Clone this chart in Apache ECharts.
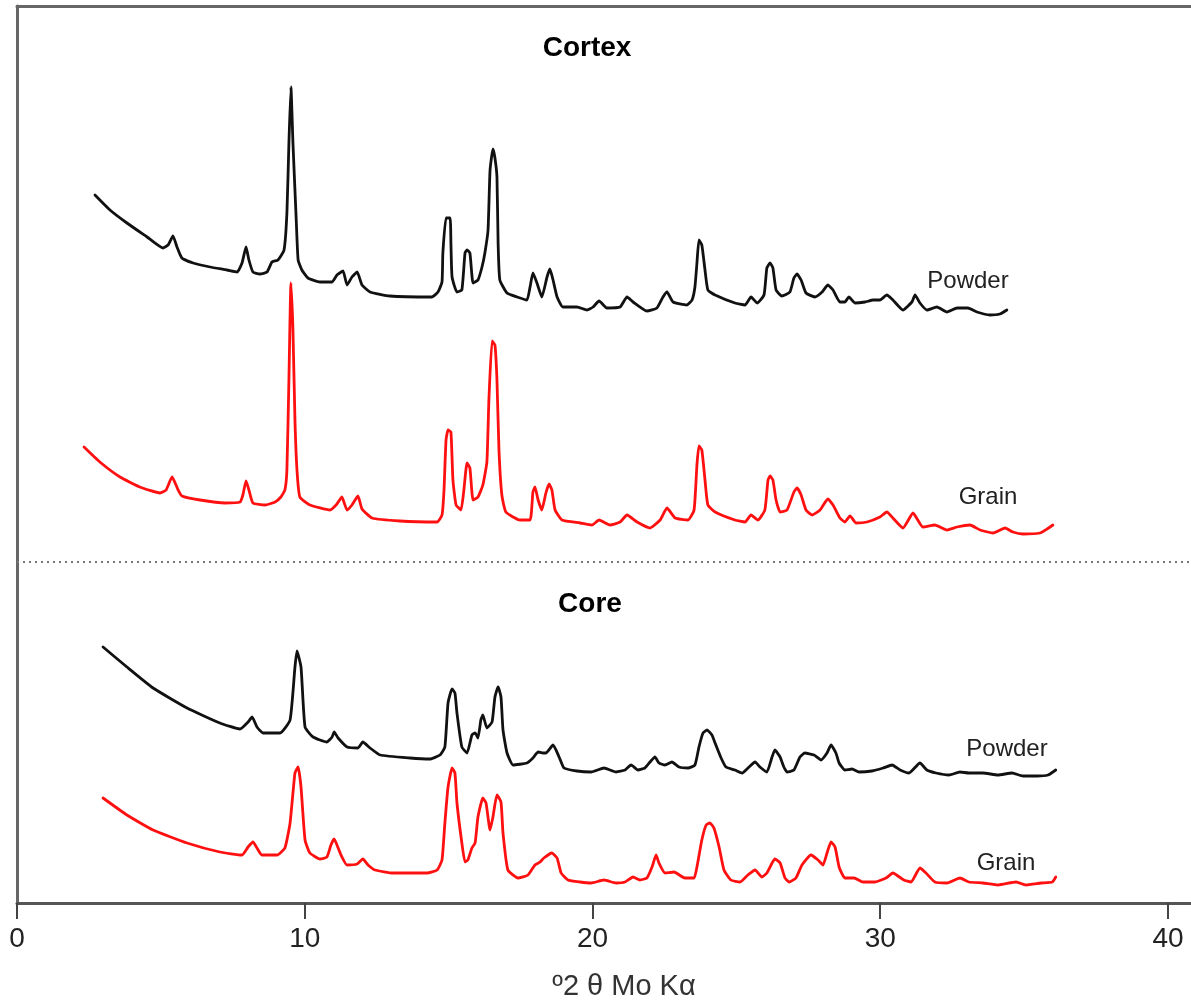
<!DOCTYPE html>
<html>
<head>
<meta charset="utf-8">
<title>XRD Cortex / Core</title>
<script src="https://cdn.jsdelivr.net/npm/echarts@6/dist/echarts.min.js"></script>
<style>
    html, body { margin: 0; padding: 0; background: #fff; }
    #chart { width: 1191px; height: 1003px; }
</style>
</head>
<body>
<div id="chart"></div>
<script>
// x: degrees 2θ, y: intensity (arbitrary units, traces offset)
const xTicks = [0, 10, 20, 30, 40];

// Cortex - powder
const cortexPowderX = [2.71, 3.23, 3.82, 4.52, 5.07, 5.25, 5.42, 5.56, 5.73, 6.12, 6.71, 7.30, 7.65, 7.82, 7.96, 8.06, 8.20, 8.44, 8.69, 8.86,
    9.07, 9.28, 9.38, 9.45, 9.52, 9.59, 9.70, 9.77, 9.90, 10.11, 10.53, 10.95, 11.12, 11.33, 11.47, 11.64, 11.82, 11.99, 12.27, 12.96,
    14.42, 14.63, 14.77, 14.80, 14.91, 15.05, 15.08, 15.12, 15.29, 15.46, 15.57, 15.64, 15.74, 15.85, 16.02, 16.16, 16.26, 16.37, 16.44, 16.54,
    16.61, 16.68, 16.72, 16.78, 17.03, 17.38, 17.72, 17.83, 17.93, 18.07, 18.24, 18.42, 18.52, 18.63, 18.77, 18.97, 19.46, 19.81, 20.02, 20.23,
    20.50, 20.96, 21.20, 21.41, 21.89, 22.24, 22.45, 22.59, 22.80, 23.28, 23.46, 23.56, 23.63, 23.70, 23.80, 23.91, 24.01, 24.26, 24.95, 25.30,
    25.51, 25.72, 25.96, 26.06, 26.17, 26.27, 26.38, 26.58, 26.86, 27.00, 27.11, 27.25, 27.42, 27.73, 27.98, 28.18, 28.36, 28.60, 28.77, 28.91,
    29.12, 29.47, 29.75, 29.99, 30.23, 30.44, 30.79, 31.10, 31.21, 31.38, 31.62, 31.97, 32.32, 32.67, 33.05, 33.36, 33.81, 34.16, 34.40];
const cortexPowderY = [708, 693, 680, 666, 655, 658, 667, 656, 645, 640, 636, 633, 631, 640, 656, 643, 631, 629, 631, 641,
    643, 653, 690, 760, 816, 760, 686, 643, 633, 625, 621, 621, 628, 632, 618, 626, 631, 618, 611, 607,
    606, 611, 621, 650, 685, 685, 660, 626, 611, 613, 650, 653, 650, 620, 623, 636, 650, 673, 733, 754,
    745, 726, 660, 623, 610, 606, 603, 616, 630, 620, 606, 626, 634, 623, 606, 596, 596, 593, 596, 602,
    595, 596, 606, 601, 592, 595, 606, 611, 601, 598, 603, 616, 640, 663, 658, 633, 613, 608, 600, 598,
    606, 600, 608, 635, 640, 635, 613, 607, 611, 625, 629, 623, 610, 606, 611, 618, 613, 601, 601, 606,
    600, 601, 603, 603, 608, 603, 593, 601, 608, 600, 593, 596, 591, 595, 595, 591, 588, 589, 593];

// Cortex - grain
const cortexGrainX = [2.33, 2.88, 3.58, 4.27, 4.97, 5.18, 5.39, 5.60, 5.73, 6.36, 7.23, 7.75, 7.85, 7.96, 8.06, 8.20, 8.62, 8.97, 9.17, 9.31,
    9.38, 9.45, 9.52, 9.59, 9.66, 9.73, 9.83, 10.18, 10.88, 11.12, 11.29, 11.47, 11.64, 11.85, 11.99, 12.34, 13.31, 14.60, 14.77, 14.84,
    14.91, 14.98, 15.08, 15.15, 15.26, 15.43, 15.53, 15.64, 15.74, 15.85, 16.02, 16.19, 16.33, 16.40, 16.51, 16.61, 16.68, 16.75, 16.85, 16.99,
    17.48, 17.83, 17.93, 18.00, 18.11, 18.24, 18.38, 18.49, 18.59, 18.70, 18.94, 19.57, 19.98, 20.23, 20.61, 20.96, 21.20, 21.55, 22.00, 22.35,
    22.59, 22.87, 23.32, 23.53, 23.63, 23.70, 23.80, 23.91, 24.01, 24.26, 24.95, 25.30, 25.51, 25.75, 25.99, 26.10, 26.17, 26.27, 26.38, 26.52,
    26.76, 27.00, 27.11, 27.25, 27.42, 27.63, 27.91, 28.18, 28.36, 28.60, 28.77, 28.95, 29.16, 29.54, 29.99, 30.23, 30.44, 30.79, 31.14, 31.48,
    31.90, 32.32, 32.67, 33.12, 33.47, 33.92, 34.34, 34.61, 34.96, 35.55, 35.80, 36.00];
const cortexGrainY = [456, 441, 426, 416, 410, 413, 426, 413, 407, 403, 400, 401, 408, 422, 413, 400, 398, 401, 406, 413,
    433, 523, 620, 573, 483, 433, 406, 398, 393, 399, 406, 393, 398, 407, 394, 385, 382, 381, 388, 413,
    463, 473, 471, 423, 398, 393, 413, 440, 435, 403, 406, 418, 441, 503, 562, 558, 523, 453, 408, 391,
    383, 383, 411, 416, 403, 393, 410, 419, 413, 393, 383, 380, 378, 383, 378, 381, 388, 381, 375, 383,
    395, 385, 383, 393, 438, 457, 453, 423, 398, 391, 383, 381, 388, 383, 393, 423, 427, 423, 403, 391,
    393, 411, 415, 408, 393, 388, 393, 404, 398, 385, 381, 387, 380, 381, 386, 391, 385, 375, 390, 376,
    378, 373, 376, 378, 373, 370, 375, 371, 369, 370, 374, 378];

// Core - powder
const corePowderX = [2.99, 3.82, 4.73, 5.91, 7.05, 7.75, 8.03, 8.17, 8.34, 8.55, 9.14, 9.49, 9.66, 9.73, 9.87, 10.01, 10.29, 10.77, 10.95, 11.02,
    11.16, 11.47, 11.85, 12.02, 12.27, 12.62, 13.66, 14.35, 14.70, 14.87, 14.98, 15.12, 15.22, 15.29, 15.46, 15.64, 15.81, 15.92, 16.02, 16.12,
    16.19, 16.33, 16.51, 16.61, 16.72, 16.82, 16.89, 17.03, 17.24, 17.72, 17.93, 18.11, 18.28, 18.38, 18.63, 18.84, 19.01, 19.46, 19.95, 20.40,
    20.82, 21.13, 21.34, 21.58, 21.82, 22.00, 22.17, 22.31, 22.52, 22.76, 23.01, 23.32, 23.56, 23.70, 23.84, 23.98, 24.15, 24.26, 24.47, 24.64,
    24.95, 25.20, 25.44, 25.65, 25.82, 26.06, 26.24, 26.34, 26.52, 26.65, 26.76, 27.00, 27.21, 27.38, 27.70, 27.94, 28.15, 28.29, 28.46, 28.57,
    28.77, 29.02, 29.26, 29.71, 30.10, 30.41, 30.69, 31.00, 31.38, 31.62, 31.94, 32.39, 32.77, 33.08, 33.57, 34.09, 34.58, 34.96, 35.45, 35.83,
    36.10];
const corePowderY = [256, 236, 215, 195, 180, 174, 181, 186, 176, 170, 170, 183, 236, 252, 236, 176, 166, 161, 166, 171,
    165, 156, 155, 161, 155, 148, 145, 144, 148, 156, 200, 214, 210, 190, 156, 150, 168, 170, 165, 183,
    188, 175, 181, 206, 216, 206, 173, 150, 138, 140, 145, 151, 150, 150, 158, 146, 135, 132, 131, 135,
    131, 133, 138, 133, 135, 141, 146, 140, 138, 141, 136, 135, 138, 156, 170, 173, 168, 160, 145, 136,
    133, 130, 136, 141, 136, 131, 146, 153, 146, 136, 131, 133, 146, 150, 148, 143, 150, 158, 150, 140,
    133, 134, 131, 132, 135, 138, 133, 130, 140, 133, 130, 128, 131, 130, 130, 128, 130, 127, 127, 128,
    133];

// Core - grain
const coreGrainX = [2.99, 3.82, 4.73, 5.91, 7.05, 7.82, 8.03, 8.20, 8.34, 8.51, 9.04, 9.31, 9.49, 9.66, 9.77, 9.87, 10.01, 10.18, 10.53, 10.77,
    10.91, 11.02, 11.12, 11.26, 11.47, 11.82, 12.02, 12.20, 12.44, 13.07, 14.25, 14.60, 14.77, 14.87, 14.98, 15.12, 15.22, 15.29, 15.46, 15.57,
    15.67, 15.81, 15.92, 16.02, 16.19, 16.30, 16.44, 16.54, 16.68, 16.82, 16.89, 17.06, 17.41, 17.76, 18.00, 18.18, 18.31, 18.59, 18.77, 18.91,
    19.15, 19.57, 19.95, 20.40, 20.82, 21.13, 21.41, 21.65, 21.89, 22.07, 22.21, 22.31, 22.52, 22.83, 23.21, 23.53, 23.63, 23.80, 23.95, 24.08,
    24.22, 24.40, 24.57, 24.81, 25.13, 25.40, 25.65, 25.89, 26.06, 26.24, 26.34, 26.52, 26.69, 26.83, 27.07, 27.28, 27.59, 27.84, 28.01, 28.15,
    28.29, 28.43, 28.57, 28.77, 29.09, 29.40, 29.82, 30.20, 30.44, 30.82, 31.07, 31.38, 31.59, 31.90, 32.32, 32.77, 33.08, 33.57, 34.09, 34.72,
    35.06, 35.59, 35.98, 36.10];
const coreGrainY = [105, 88, 73, 60, 51, 48, 56, 61, 55, 48, 48, 55, 80, 130, 136, 116, 63, 50, 44, 46,
    58, 64, 58, 48, 38, 39, 44, 38, 33, 30, 30, 33, 43, 80, 116, 135, 130, 100, 60, 41,
    43, 55, 60, 86, 105, 100, 73, 86, 108, 101, 70, 33, 25, 28, 38, 41, 45, 50, 45, 30,
    23, 21, 20, 23, 20, 21, 26, 23, 25, 36, 48, 40, 30, 31, 25, 25, 36, 63, 78, 80,
    75, 56, 33, 23, 21, 28, 33, 26, 30, 40, 44, 40, 25, 21, 25, 38, 48, 43, 38, 50,
    61, 56, 36, 25, 25, 21, 21, 25, 30, 23, 21, 35, 30, 21, 20, 25, 21, 20, 18, 21,
    18, 20, 21, 26];

const dividerLevel = 341;

function pairs(xs, ys) {
    return xs.map((x, i) => [x, ys[i]]);
}

const chart = echarts.init(document.getElementById('chart'));
const fontFamily = '"Liberation Sans", Arial, Helvetica, sans-serif';

function trace(name, xs, ys, color) {
    return {
        name: name,
        type: 'line',
        data: pairs(xs, ys),
        showSymbol: false,
        symbol: 'none',
        silent: true,
        animation: false,
        smooth: 0.15,
        lineStyle: { color: color, width: 2.8, join: 'round', cap: 'round' }
    };
}

const powderTop = trace('Cortex Powder', cortexPowderX, cortexPowderY, '#111111');
powderTop.markLine = {
    silent: true,
    symbol: 'none',
    label: { show: false },
    lineStyle: { type: [2, 4], color: '#777', width: 2 },
    data: [{ yAxis: dividerLevel }]
};

const option = {
    backgroundColor: '#fff',
    animation: false,
    grid: { left: 17, right: 0, top: 6, bottom: 100 },
    xAxis: [{
        type: 'value',
        min: 0,
        max: 40.8,
        interval: 10,
        axisLine: { show: true, lineStyle: { color: '#555', width: 3 } },
        axisTick: { show: true, customValues: xTicks, length: 16, lineStyle: { color: '#444', width: 2 } },
        axisLabel: { customValues: xTicks, color: '#222', fontSize: 28, margin: 22, fontFamily: fontFamily },
        splitLine: { show: false }
    }, {
        type: 'value',
        position: 'top',
        min: 0,
        max: 40.8,
        axisLine: { show: true, lineStyle: { color: '#666', width: 3 } },
        axisTick: { show: false },
        axisLabel: { show: false },
        splitLine: { show: false }
    }],
    yAxis: {
        type: 'value',
        min: 0,
        max: 897,
        axisLine: { show: true, lineStyle: { color: '#666', width: 3 } },
        axisTick: { show: false },
        axisLabel: { show: false },
        splitLine: { show: false }
    },
    series: [
        powderTop,
        trace('Cortex Grain', cortexGrainX, cortexGrainY, '#ff1010'),
        trace('Core Powder', corePowderX, corePowderY, '#111111'),
        trace('Core Grain', coreGrainX, coreGrainY, '#ff1010')
    ],
    graphic: [
        { type: 'text', x: 587, y: 48, style: { text: 'Cortex', fill: '#000', font: 'bold 28px ' + fontFamily, align: 'center', verticalAlign: 'middle' } },
        { type: 'text', x: 590, y: 604, style: { text: 'Core', fill: '#000', font: 'bold 28px ' + fontFamily, align: 'center', verticalAlign: 'middle' } },
        { type: 'text', x: 968, y: 281, style: { text: 'Powder', fill: '#222', font: '24px ' + fontFamily, align: 'center', verticalAlign: 'middle' } },
        { type: 'text', x: 988, y: 497, style: { text: 'Grain', fill: '#222', font: '24px ' + fontFamily, align: 'center', verticalAlign: 'middle' } },
        { type: 'text', x: 1007, y: 749, style: { text: 'Powder', fill: '#222', font: '24px ' + fontFamily, align: 'center', verticalAlign: 'middle' } },
        { type: 'text', x: 1006, y: 863, style: { text: 'Grain', fill: '#222', font: '24px ' + fontFamily, align: 'center', verticalAlign: 'middle' } },
        { type: 'text', x: 624, y: 987, style: { text: 'º2 θ Mo Kα', fill: '#333', font: '29px ' + fontFamily, align: 'center', verticalAlign: 'middle' } }
    ]
};

chart.setOption(option);

window.addEventListener('resize', function() {
    chart.resize();
});
</script>
</body>
</html>
